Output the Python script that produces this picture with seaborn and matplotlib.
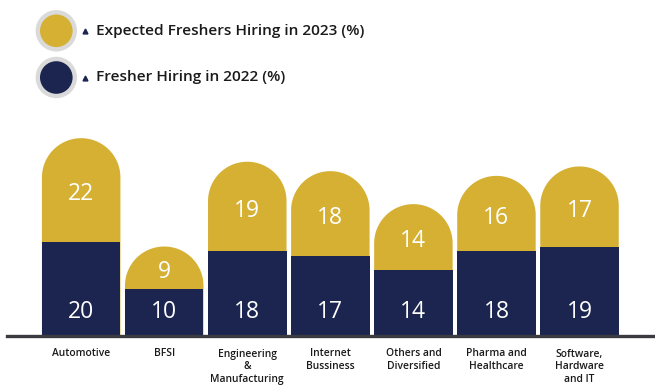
import numpy as np
import pandas as pd
import matplotlib
matplotlib.use("Agg")
import matplotlib.pyplot as plt
import seaborn as sns
from matplotlib.path import Path
from matplotlib.patches import PathPatch, Circle

# Sector data
sectors = ["Automotive", "BFSI", "Engineering\n&\nManufacturing", "Internet\nBussiness",
           "Others and\nDiversified", "Pharma and\nHealthcare", "Software,\nHardware\nand IT"]
hiring_2022 = [20, 10, 18, 17, 14, 18, 19]
expected_2023 = [22, 9, 19, 18, 14, 16, 17]

legend_labels = ["Expected Freshers Hiring in 2023 (%)", "Fresher Hiring in 2022 (%)"]

GOLD = "#D5B033"
NAVY = "#1B2550"
TEXT = "#1A1A1A"

sns.set_style("white")
plt.rcParams["font.family"] = ["Open Sans", "DejaVu Sans"]

df = pd.DataFrame({
    "sector": sectors,
    "y2022": hiring_2022,
    "y2023": expected_2023,
})
df["total"] = df["y2022"] + df["y2023"]

W, H = 655, 386
fig = plt.figure(figsize=(W / 100, H / 100), dpi=100)

# main axes, placed in pixel terms
ax_left, ax_right = 7, 655
ax_bottom_px, ax_top_px = 336, 100
ax = fig.add_axes([ax_left / W, 1 - ax_bottom_px / H,
                   (ax_right - ax_left) / W, (ax_bottom_px - ax_top_px) / H])

sns.barplot(data=df, x="sector", y="total", color=GOLD, width=0.945,
            saturation=1, ax=ax, linewidth=0)
n_gold = len(ax.patches)
sns.barplot(data=df, x="sector", y="y2022", color=NAVY, width=0.945,
            saturation=1, ax=ax, linewidth=0)

ax.set_xlim(-0.893, 6.909)
ax.set_ylim(0, (ax_bottom_px - ax_top_px) / 4.71)

# scale factors: pixels per data unit
px_x = (ax_right - ax_left) / (ax.get_xlim()[1] - ax.get_xlim()[0])
px_y = (ax_bottom_px - ax_top_px) / (ax.get_ylim()[1] - ax.get_ylim()[0])

# replace the gold bars with dome-topped shapes
gold_patches = ax.patches[:n_gold]
for p, low in zip(gold_patches, df["y2022"]):
    x0, w, top = p.get_x(), p.get_width(), p.get_y() + p.get_height()
    rx = w / 2
    r_px = rx * px_x
    ry = min(r_px / px_y, top - low)
    cx, cy = x0 + rx, top - ry
    t = np.linspace(np.pi, 0, 80)
    arc = np.column_stack([cx + rx * np.cos(t), cy + ry * np.sin(t)])
    verts = np.vstack([[x0, 0], [x0, cy], arc, [x0 + w, cy], [x0 + w, 0], [x0, 0]])
    codes = [Path.MOVETO] + [Path.LINETO] * (len(verts) - 2) + [Path.CLOSEPOLY]
    p.set_visible(False)
    ax.add_patch(PathPatch(Path(verts, codes), facecolor=GOLD, edgecolor="none",
                           zorder=p.get_zorder()))

# navy bars above the gold shapes
for p in ax.patches[n_gold:n_gold + len(df)]:
    p.set_zorder(3)

# value labels
for i, row in df.iterrows():
    ax.text(i, 5.0, f"{row.y2022}", ha="center", va="center", color="white",
            fontsize=16.5, zorder=5)
    ax.text(i, row.y2022 + row.y2023 / 2 - 0.9, f"{row.y2023}", ha="center",
            va="center", color="white", fontsize=16.5, zorder=5)

sns.despine(ax=ax, left=True, top=True, right=True)
ax.spines["bottom"].set_color("#3A3B40")
ax.spines["bottom"].set_linewidth(2.4)
ax.spines["bottom"].set_zorder(6)
ax.set_yticks([])
ax.set_xlabel("")
ax.set_ylabel("")
ax.tick_params(axis="x", length=0, pad=9, labelsize=7.4, labelcolor=TEXT)
for lbl in ax.get_xticklabels():
    lbl.set_linespacing(1.22)
    lbl.set_fontweight(600)

# legend drawn in pixel space
lax = fig.add_axes([0, 0, 1, 1], zorder=10)
lax.set_xlim(0, W)
lax.set_ylim(H, 0)
lax.axis("off")
for (cy, col, text) in [(30.8, GOLD, legend_labels[0]), (77.5, NAVY, legend_labels[1])]:
    lax.add_patch(Circle((56.3, cy), 20.7, facecolor="#DADADA", edgecolor="none"))
    lax.add_patch(Circle((56.3, cy), 16.3, facecolor=col, edgecolor="none"))
    lax.plot([85], [cy], marker="^", markersize=3.5, color=NAVY, linestyle="none")
    lax.text(96, cy, text, ha="left", va="center", fontsize=11.1, color=TEXT,
             fontweight=600)

fig.savefig("out.png", dpi=100)
